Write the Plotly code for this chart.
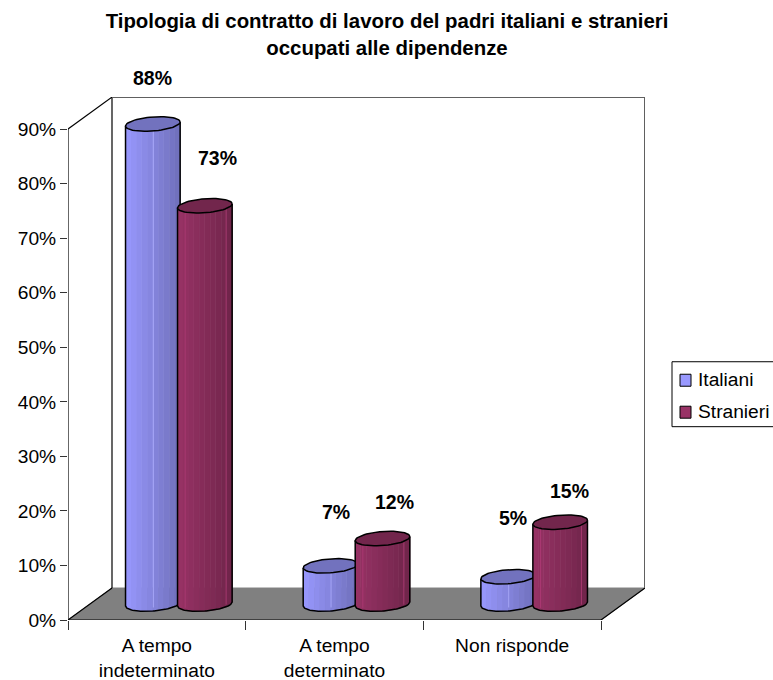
import numpy as np
import plotly.graph_objects as go

categories = ["A tempo<br>indeterminato", "A tempo<br>determinato", "Non risponde"]
italiani = [88, 7, 5]
stranieri = [73, 12, 15]
y_ticks = [0, 10, 20, 30, 40, 50, 60, 70, 80, 90]

# px of the reference, used to place things on the paper
W, H = 773, 680
L, R, T, B = 68, 645, 97, 620.5
PX_X = 533 / 3          # px for one category
PX_Y = 5.46             # px for one percent


def paper_x(px):
    return (px - L) / (R - L)


def paper_y(px):
    return (B - px) / (B - T)


fig = go.Figure()

depth_x = 44 / PX_X
depth_y = 32 / PX_Y
lift_x = depth_x / 2
lift_y = depth_y / 2
half_w = 27.3 / PX_X
half_h = 7 / PX_Y
tilt = 2 / PX_Y
n_strips = 10


def shade(rgb, f):
    return "rgb(%d,%d,%d)" % tuple(min(255, int(c * f)) for c in rgb)


def cylinder(cx, value, rgb, top_rgb, name, glints):
    edges = np.linspace(-1, 1, n_strips + 1)
    for i in range(n_strips):
        u = np.linspace(edges[i], edges[i + 1], 5)
        xs = cx + half_w * u
        low = lift_y + tilt * u - half_h * np.sqrt(1 - u ** 2)
        high = value + lift_y + tilt * u
        col = shade(rgb, 1 - 0.27 * (i + 0.5) / n_strips)
        fig.add_trace(go.Scatter(
            x=np.r_[xs, xs[::-1]], y=np.r_[low, high[::-1]], mode="lines",
            fill="toself", fillcolor=col, line=dict(color=col, width=1),
            hoverinfo="skip", showlegend=False))
    # thin lighter lines on the side
    for g in glints:
        fig.add_trace(go.Scatter(
            x=[cx + half_w * g] * 2,
            y=[lift_y + tilt * g - half_h * np.sqrt(1 - g ** 2) * 0.5, value + lift_y + tilt * g],
            mode="lines", line=dict(color=shade(rgb, 1.15), width=0.8),
            hoverinfo="skip", showlegend=False))
    # side and bottom outline
    u = np.linspace(-1, 1, 41)
    xs = np.r_[cx - half_w, cx + half_w * u, cx + half_w]
    ys = np.r_[value + lift_y - tilt,
               lift_y + tilt * u - half_h * np.sqrt(1 - u ** 2),
               value + lift_y + tilt]
    fig.add_trace(go.Scatter(x=xs, y=ys, mode="lines", line=dict(color="black", width=1.5),
                             hoverinfo="skip", showlegend=False))
    # top
    t = np.linspace(0, 2 * np.pi, 61)
    fig.add_trace(go.Scatter(
        x=cx + half_w * np.cos(t),
        y=value + lift_y + tilt * np.cos(t) + half_h * np.sin(t),
        mode="lines", fill="toself", fillcolor=shade(top_rgb, 1),
        line=dict(color="black", width=1.5), name=name,
        hovertemplate=name + ": " + str(value) + "%<extra></extra>", showlegend=False))


BLUE = (153, 153, 255)
PURPLE = (153, 51, 102)
BLUE_TOP = (114, 114, 190)
PURPLE_TOP = (114, 38, 76)

for i in range(len(categories)):
    mid = i + 0.5 + lift_x
    cylinder(mid - 26 / PX_X, italiani[i], BLUE, BLUE_TOP, "Italiani", [0.02])
    cylinder(mid + 26 / PX_X, stranieri[i], PURPLE, PURPLE_TOP, "Stranieri", [-0.72, 0.78])

# data labels, moved by hand as in the original
label_dy = [(46, 48), (54, 37), (59, 31)]
label_dx = [(0, 13), (5, 12), (5, 9)]
for i in range(len(categories)):
    mid = i + 0.5 + lift_x
    for j, (vals, off) in enumerate(((italiani, -26), (stranieri, 26))):
        fig.add_annotation(x=mid + off / PX_X, y=vals[i] + lift_y,
                           xshift=label_dx[i][j], yshift=label_dy[i][j],
                           text="<b>%d%%</b>" % vals[i], showarrow=False,
                           font=dict(size=19.5, color="black"))

# walls and floor
x_end = 3
shapes = [
    dict(type="path", layer="below", fillcolor="#808080", line=dict(color="#808080", width=1),
         path="M 0 0 L %f 0 L %f %f L %f %f Z" % (x_end, x_end + depth_x, depth_y, depth_x, depth_y)),
    dict(type="line", layer="below", x0=0, y0=0, x1=depth_x, y1=depth_y, line=dict(color="black", width=1.2)),
    dict(type="line", layer="below", x0=0, y0=0, x1=x_end, y1=0, line=dict(color="black", width=1.2)),
    dict(type="line", layer="below", x0=x_end, y0=0, x1=x_end + depth_x, y1=depth_y, line=dict(color="black", width=1.2)),
    dict(type="line", layer="below", x0=0, y0=0, x1=0, y1=90, line=dict(color="black", width=1.2)),
    dict(type="line", layer="below", x0=0, y0=90, x1=depth_x, y1=90 + depth_y, line=dict(color="black", width=1.2)),
    dict(type="line", layer="below", x0=depth_x, y0=depth_y, x1=depth_x, y1=90 + depth_y, line=dict(color="black", width=1.2)),
    dict(type="line", layer="below", x0=depth_x, y0=90 + depth_y, x1=x_end + depth_x, y1=90 + depth_y, line=dict(color="#606060", width=2)),
    dict(type="line", layer="below", x0=x_end + depth_x, y0=depth_y, x1=x_end + depth_x, y1=90 + depth_y, line=dict(color="#606060", width=2)),
]

# legend box, plotly's own one leaves too much room before the text
legend_names = ["Italiani", "Stranieri"]
legend_cols = ["#9999FF", "#993366"]
legend_y = [380.5, 412.5]
shapes.append(dict(type="rect", xref="paper", yref="paper", x0=paper_x(672), x1=paper_x(790),
                   y0=paper_y(427), y1=paper_y(362), line=dict(color="black", width=1), fillcolor="white"))
for name, col, yy in zip(legend_names, legend_cols, legend_y):
    shapes.append(dict(type="rect", xref="paper", yref="paper", x0=paper_x(680), x1=paper_x(691),
                       y0=paper_y(yy + 6), y1=paper_y(yy - 6), line=dict(color="black", width=1), fillcolor=col))
    fig.add_annotation(xref="paper", yref="paper", x=paper_x(696), y=paper_y(yy - 1), xanchor="left",
                       text=name, showarrow=False, font=dict(size=19.2, color="black"))

fig.update_layout(
    width=W, height=H,
    margin=dict(l=L, r=W - R, t=T, b=H - B, pad=0, autoexpand=False),
    paper_bgcolor="white", plot_bgcolor="white",
    font=dict(family="Liberation Sans, Arial, sans-serif", size=19.2, color="black"),
    title=dict(text="<b>Tipologia di contratto di lavoro del padri italiani e stranieri<br>occupati alle dipendenze</b>",
               x=387 / W, xanchor="center", y=1 - 28 / H, yanchor="middle",
               font=dict(size=20.4, color="black")),
    showlegend=False,
    shapes=shapes,
    xaxis=dict(range=[0, x_end + depth_x], tickmode="array", tickvals=[0.5, 1.5, 2.5], ticktext=categories,
               ticks="", showgrid=False, zeroline=False, showline=False, ticklabelstandoff=12,
               minor=dict(tickmode="array", tickvals=[0, 1, 2, 3], ticks="outside", ticklen=9, tickcolor="#333333", tickwidth=1, showgrid=False)),
    yaxis=dict(range=[0, (B - T) / PX_Y], tickmode="array", tickvals=y_ticks, ticktext=["%d%%" % v for v in y_ticks],
               ticks="outside", ticklen=7, tickcolor="#333333", tickwidth=1, showgrid=False, zeroline=False, showline=False),
)

fig.write_html("out.html", config=dict(displayModeBar=False), post_script="document.body.style.margin='0';")
